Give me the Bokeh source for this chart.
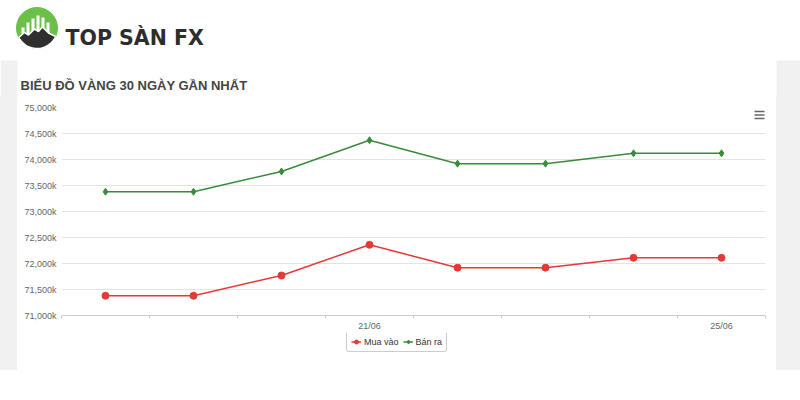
import math
from bokeh.plotting import figure
from bokeh.layouts import column, row
from bokeh.models import (Range1d, FixedTicker, Legend, LegendItem,
                          BoxAnnotation, Spacer)
from bokeh.core.properties import value
from bokeh.embed import file_html
from bokeh.resources import INLINE

# ---------------- data ----------------
dates = ["18/06", "19/06", "20/06", "21/06", "22/06", "23/06", "24/06", "25/06"]
labeled_dates = ["21/06", "25/06"]
mua_vao = [71380, 71380, 71770, 72360, 71920, 71920, 72110, 72110]
ban_ra = [73380, 73380, 73770, 74370, 73920, 73920, 74120, 74120]
y_ticks = [71000, 71500, 72000, 72500, 73000, 73500, 74000, 74500, 75000]
series_names = ["Mua vào", "Bán ra"]
title_text = "BIỂU ĐỒ VÀNG 30 NGÀY GẦN NHẤT"
brand_text = "TOP SÀN FX"

RED = "#e53935"
GREEN = "#3a8a3c"
GREY_BG = "#f1f1f1"


def bare(fig):
    fig.grid.visible = False
    return fig


# ---------------- header (logo + chart title) ----------------
hdr = bare(figure(width=800, height=97, x_range=Range1d(0, 800), y_range=Range1d(97, 0),
                  min_border=0, toolbar_location=None, output_backend="svg",
                  x_axis_location=None, y_axis_location=None, outline_line_color=None,
                  background_fill_color="white", border_fill_color="white"))
# grey page strips
hdr.quad(left=[0, 776], right=[17, 800], top=[60, 60], bottom=[97, 97],
         fill_color=GREY_BG, line_color=None)
cx0, cy0, rr = 36.5, 27.5, 20.5
hdr.circle(x=[cx0], y=[cy0], radius=rr, fill_color="#6cc04a", line_color="#6cc04a")
hdr.quad(left=[21, 26, 31, 36, 41, 46], right=[24, 29, 34, 39, 44, 49],
         top=[27, 22, 18, 15, 17, 22], bottom=[36] * 6, fill_color="white", line_color=None)
ridge = [(18.3, 37), (24, 32), (28, 34.5), (34, 28.5), (38, 31), (42, 26.5), (48, 32.5), (55.2, 36)]
a0 = math.atan2(36 - cy0, 55.2 - cx0)
a1 = math.atan2(37 - cy0, 18.3 - cx0)
arc = [(cx0 + rr * math.cos(a0 + (a1 - a0) * k / 30), cy0 + rr * math.sin(a0 + (a1 - a0) * k / 30))
       for k in range(31)]
hdr.patch([q[0] for q in ridge + arc], [q[1] for q in ridge + arc],
          fill_color="#2f2f2f", line_color="white", line_width=1.5)
hdr.text(x=[65], y=[37.5], text=[brand_text], text_font=value("DejaVu Sans"),
         text_font_size="20.5px", text_font_style="bold", text_color="#2d2d2d",
         text_baseline="alphabetic")
hdr.text(x=[20], y=[85], text=[title_text], text_font=value("Liberation Sans"),
         text_font_size="13px", text_font_style="bold", text_color="#444444",
         text_baseline="alphabetic")

# ---------------- chart ----------------
p = figure(width=759, height=236, output_backend="svg", toolbar_location=None,
           x_range=Range1d(-0.5, len(dates) - 0.5),
           y_range=Range1d(y_ticks[0], y_ticks[-1]),
           min_border_left=44, min_border_right=11,
           min_border_top=10, min_border_bottom=18,
           background_fill_color="white", border_fill_color="white",
           outline_line_color=None)

xs = list(range(len(dates)))
r1l = p.line(xs, mua_vao, line_color=RED, line_width=1.5)
r1m = p.scatter(xs, mua_vao, marker="circle", size=7, fill_color=RED, line_color=RED)
r2l = p.line(xs, ban_ra, line_color=GREEN, line_width=1.5)
r2m = p.scatter(xs, ban_ra, marker="diamond", size=7, fill_color=GREEN, line_color=GREEN)

p.xgrid.visible = False
p.ygrid.ticker = FixedTicker(ticks=y_ticks)
p.ygrid.grid_line_color = "#e3e3e3"

p.yaxis.ticker = FixedTicker(ticks=y_ticks)
p.yaxis.major_label_overrides = {t: f"{t:,}k" for t in y_ticks}
p.yaxis.axis_line_color = None
p.yaxis.major_tick_line_color = None
p.yaxis.major_tick_out = 0
p.yaxis.minor_tick_line_color = None
p.yaxis.major_label_text_font = "Liberation Sans"
p.yaxis.major_label_text_font_size = "9px"
p.yaxis.major_label_text_color = "#666666"
p.yaxis.major_label_standoff = 5

p.xaxis.ticker = FixedTicker(ticks=[dates.index(d) for d in labeled_dates],
                             minor_ticks=[i - 0.5 for i in range(len(dates) + 1)])
p.xaxis.major_label_overrides = {dates.index(d): d for d in labeled_dates}
p.xaxis.axis_line_color = "#cccccc"
p.xaxis.major_tick_line_color = None
p.xaxis.major_tick_out = 0
p.xaxis.major_tick_in = 0
p.xaxis.minor_tick_line_color = "#cccccc"
p.xaxis.minor_tick_in = 0
p.xaxis.minor_tick_out = 3
p.xaxis.major_label_text_font = "Liberation Sans"
p.xaxis.major_label_text_font_size = "9px"
p.xaxis.major_label_text_color = "#666666"
p.xaxis.major_label_standoff = 2

# menu icon (canvas units, top-down)
for yy in [14, 17.5, 21]:
    p.add_layout(BoxAnnotation(left=737, right=747, top=yy - 0.8, bottom=yy + 0.8,
                               left_units="canvas", right_units="canvas",
                               top_units="canvas", bottom_units="canvas",
                               fill_color="#666666", fill_alpha=1, line_color=None))

# ---------------- legend strip ----------------
# same series drawn again, but outside this strip's visible ranges: only the legend shows
lg = bare(figure(width=759, height=37, x_range=Range1d(0, 1), y_range=Range1d(0, 1),
                 min_border=0, toolbar_location=None, output_backend="svg",
                 x_axis_location=None, y_axis_location=None, outline_line_color=None,
                 background_fill_color="white", border_fill_color="white"))
k1l = lg.line(xs, mua_vao, line_color=RED, line_width=1.5)
k1m = lg.scatter(xs, mua_vao, marker="circle", size=7, fill_color=RED, line_color=RED)
k2l = lg.line(xs, ban_ra, line_color=GREEN, line_width=1.5)
k2m = lg.scatter(xs, ban_ra, marker="diamond", size=7, fill_color=GREEN, line_color=GREEN)
legend = Legend(items=[LegendItem(label=series_names[0], renderers=[k1l, k1m]),
                       LegendItem(label=series_names[1], renderers=[k2l, k2m])],
                location=(285, 18), orientation="horizontal",
                label_text_font="Liberation Sans",
                label_text_font_size="9px", label_text_color="#333333",
                glyph_width=10, glyph_height=11, label_height=11,
                label_standoff=3, spacing=4, padding=4, margin=0,
                border_line_color="#999999", border_line_width=1,
                background_fill_color="white", background_fill_alpha=1)
try:
    legend.border_radius = 3
except Exception:
    pass
lg.add_layout(legend)

left_strip = Spacer(width=17, height=273, styles={"background-color": GREY_BG})
right_strip = Spacer(width=24, height=273, styles={"background-color": GREY_BG})

layout = column(hdr, row(left_strip, column(p, lg, spacing=0), right_strip, spacing=0),
                spacing=0)

open("out.html", "w").write(file_html(layout, INLINE))
